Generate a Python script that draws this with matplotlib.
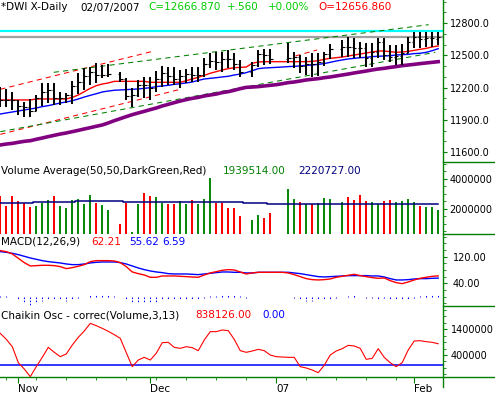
import numpy as np
import pandas as pd
import matplotlib
matplotlib.use("Agg")
import matplotlib.pyplot as plt
from matplotlib.lines import Line2D
from matplotlib.ticker import FixedLocator

W, H = 495, 395
AX_RIGHT = 443.3
plt.rcParams['font.family'] = ['DejaVu Sans']
FS = 7.5
TICK_FS = 7

# 取引日（祝日は空きスロット）
days = pd.bdate_range("2006-10-27", "2007-02-07")
x = np.arange(len(days))
N = None

opens = [12163, 12090, 12086, 12081, 12031, 12019, 11986, 12105, 12157, 12177,
         12103, 12108, 12132, 12218, 12252, 12306, 12343, 12317, 12322, N,
         12327, 12280, 12122, 12136, 12227, 12222, 12194, 12284, 12332, 12309,
         12278, 12307, 12328, 12316, 12318, 12417, 12446, 12441, 12471, 12464,
         12421, N, 12343, 12408, 12511, 12502, N, N, 12463, 12475,
         12481, 12398, 12423, 12417, 12442, 12515, N, 12556, 12583, 12577,
         12568, 12566, 12477, 12534, 12622, 12503, 12487, 12491, 12523, 12622,
         12674, 12653, 12662, 12657]
highs = [12210, 12185, 12163, 12086, 12070, 12092, 12129, 12247, 12241, 12241,
         12163, 12148, 12262, 12340, 12380, 12396, 12427, 12411, 12420, N,
         12349, 12287, 12194, 12272, 12303, 12296, 12358, 12402, 12389, 12389,
         12365, 12371, 12396, 12396, 12473, 12526, 12535, 12535, 12551, 12520,
         12458, N, 12442, 12551, 12560, 12557, N, N, 12619, 12535,
         12504, 12489, 12520, 12520, 12535, 12606, N, 12644, 12675, 12659,
         12628, 12613, 12613, 12659, 12659, 12597, 12597, 12606, 12675, 12721,
         12721, 12721, 12721, 12721]
lows = [12024, 12017, 11993, 11946, 11930, 11924, 11980, 12030, 12055, 12039,
        12039, 12055, 12045, 12141, 12179, 12225, 12241, 12287, 12303, N,
        12256, 12086, 12024, 12117, 12101, 12086, 12163, 12210, 12225, 12225,
        12194, 12241, 12256, 12256, 12300, 12380, 12365, 12349, 12380, 12365,
        12303, N, 12303, 12395, 12411, 12420, N, N, 12427, 12380,
        12334, 12318, 12303, 12309, 12402, 12464, N, 12489, 12489, 12473,
        12473, 12396, 12396, 12473, 12458, 12442, 12411, 12411, 12520, 12566,
        12566, 12582, 12582, 12597]
closes = [12090, 12086, 12081, 12031, 12019, 11986, 12105, 12157, 12177, 12103,
          12108, 12132, 12218, 12252, 12306, 12343, 12317, 12322, 12327, N,
          12280, 12122, 12136, 12227, 12222, 12194, 12284, 12332, 12309, 12278,
          12307, 12328, 12316, 12318, 12417, 12446, 12441, 12471, 12464, 12421,
          12343, N, 12408, 12511, 12502, 12463, N, N, 12475, 12481,
          12398, 12423, 12417, 12442, 12515, 12556, N, 12583, 12577, 12568,
          12566, 12477, 12534, 12622, 12503, 12487, 12491, 12523, 12622, 12674,
          12653, 12662, 12666, 12667]

ma_red = [12086, 12086, 12086, 12086, 12086, 12086, 12095, 12095, 12095, 12095,
          12095, 12095, 12110, 12132, 12163, 12194, 12219, 12234, 12244, 12259,
          12259, 12259, 12259, 12259, 12259, 12250, 12250, 12250, 12250, 12250,
          12250, 12265, 12281, 12296, 12315, 12334, 12349, 12365, 12377, 12386,
          12389, 12392, 12427, 12439, 12442, 12442, 12442, 12442, 12442, 12442,
          12442, 12442, 12445, 12451, 12464, 12473, 12479, 12485, 12495, 12504,
          12513, 12523, 12532, 12541, 12541, 12535, 12529, 12532, 12538, 12547,
          12557, 12566, 12579, 12588]
ma_blue = [11955, 11965, 11974, 11983, 11993, 12002, 12011, 12024, 12033, 12045,
           12058, 12067, 12079, 12095, 12113, 12129, 12144, 12160, 12169, 12176,
           12179, 12182, 12185, 12188, 12194, 12200, 12210, 12216, 12222, 12231,
           12237, 12244, 12253, 12268, 12281, 12287, 12293, 12300, 12306, 12318,
           12327, 12340, 12358, 12377, 12383, 12386, 12389, 12392, 12396, 12399,
           12402, 12408, 12411, 12417, 12424, 12436, 12448, 12458, 12467, 12473,
           12479, 12482, 12489, 12492, 12495, 12498, 12504, 12507, 12510, 12517,
           12520, 12529, 12544, 12563]
ma_purple = [11667, 11676, 11682, 11692, 11701, 11707, 11720, 11732, 11745, 11757,
             11769, 11779, 11791, 11803, 11816, 11828, 11841, 11853, 11872, 11893,
             11912, 11931, 11949, 11965, 11980, 11996, 12011, 12030, 12045, 12061,
             12076, 12089, 12101, 12110, 12123, 12132, 12141, 12154, 12163, 12176,
             12191, 12203, 12206, 12210, 12216, 12222, 12228, 12237, 12247, 12253,
             12262, 12272, 12278, 12284, 12293, 12300, 12309, 12318, 12327, 12337,
             12346, 12355, 12365, 12374, 12380, 12389, 12396, 12405, 12411, 12417,
             12424, 12430, 12436, 12442]

# トレンドチャネル（スロット, 価格）
red_upper = ([0, 25.6], [12185, 12541])
red_lower = ([0, 30.0], [11766, 12185])
red_upper2 = ([49.2, 52.8], [12495, 12551])
green_upper = ([8.9, 71.4], [12343, 12786])
green_lower = ([0, 72.5], [11791, 12529])
resist_level = 12730
last_close = 12666.87

volume = [2.89, 2.22, 2.89, 2.53, 2.38, 2.16, 2.22, 2.38, 2.60, 2.89,
          2.22, 2.09, 2.60, 2.67, 2.33, 2.95, 2.42, 2.27, 1.93, N,
          0.98, 2.42, 0.45, 2.31, 3.07, 2.89, 2.82, 2.42, 2.33, 2.33,
          2.53, 2.31, 2.60, 2.31, 2.67, 4.09, 2.42, 2.42, 2.09, 2.09,
          1.55, N, 1.27, 1.60, 1.42, 1.75, N, N, 3.33, 2.67,
          2.47, 2.31, 2.31, 2.42, 2.71, 2.67, N, 2.47, 2.80, 2.60,
          2.95, 2.55, 2.47, 2.31, 2.55, 2.60, 2.47, 2.55, 2.67, 2.47,
          2.20, 2.13, 2.13, 1.94]
vol_dir = [-1, -1, -1, -1, -1, -1, 1, 1, 1, -1, 1, 1, 1, 1, 1, 1, -1, 1, 1, 0,
           -1, -1, 1, 1, -1, -1, 1, 1, -1, -1, 1, 1, -1, 1, 1, 1, -1, -1, -1, -1,
           -1, 0, 1, 1, -1, -1, 0, 0, 1, 1, -1, 1, -1, 1, 1, 1, 0, 1, -1, -1,
           -1, -1, 1, 1, -1, -1, 1, 1, 1, 1, -1, 1, 1, 1]
vol_avg = [2.40] * 6 + [2.44] * 7 + [2.51] * 8 + [2.44] * 20 + [2.40] * 4 + [2.33] * 29

macd = [138, 135, 128, 115, 102, 92, 93, 94, 94, 93,
        90, 84, 87, 91, 96, 105, 108, 108, 108, 107,
        102, 90, 74, 69, 65, 58, 58, 62, 62, 62,
        61, 60, 59, 58, 65, 71, 75, 79, 81, 80,
        74, 68, 71, 73, 73, 73, 73, 73, 71, 66,
        60, 54, 51, 50, 51, 53, 58, 61, 64, 67,
        63, 60, 57, 55, 56, 48, 42, 39, 44, 50,
        55, 58, 61, 62.21]
signal = [135, 133, 130, 126, 121, 116, 112, 108, 105, 103,
          101, 98, 96, 96, 98, 101, 103, 104, 104, 104,
          102, 98, 92, 86, 81, 77, 74, 72, 69, 68,
          68, 68, 67, 66, 68, 70, 72, 74, 74, 73,
          73, 71, 71, 73, 73, 73, 73, 73, 73, 71,
          69, 66, 63, 60, 59, 60, 61, 62, 63, 63,
          63, 63, 62, 62, 59, 54, 50, 50, 51, 53,
          54, 54, 55, 55.62]

chaikin = [1243, 1010, 725, 102, -144, -442, -53, 310, 699, 505,
           336, 440, 790, 1088, 1335, 1633, 1542, 1438, 1322, 1192,
           1049, 492, -53, 206, 310, 206, 466, 881, 894, 699,
           660, 725, 686, 569, 984, 1309, 1309, 1374, 1348, 1010,
           569, 505, 556, 621, 569, 401, 336, 323, 310, 310,
           -53, -105, -183, -287, -1, 401, 556, 647, 777, 751,
           660, 232, 271, 647, 310, 102, -53, 102, 595, 945,
           958, 919, 894, 838]

opens, highs, lows, closes, volume = [np.array(a, dtype=float) for a in (opens, highs, lows, closes, volume)]
macd, signal = np.array(macd, float), np.array(signal, float)
chaikin = np.array(chaikin, float) * 1000

GREEN = '#008000'


def fy(py):
    return 1 - py / H


fig = plt.figure(figsize=(W / 100, H / 100), dpi=100)


def panel(top, bottom):
    ax = fig.add_axes([0, fy(bottom), AX_RIGHT / W, (bottom - top) / H])
    ax.set_xlim(-0.05, len(x) - 0.15)
    for s in ax.spines.values():
        s.set_visible(False)
    ax.yaxis.tick_right()
    ax.tick_params(axis='y', which='both', colors=GREEN, labelcolor='black',
                   labelsize=TICK_FS, direction='out')
    ax.tick_params(axis='y', which='major', length=3, pad=1.5)
    ax.tick_params(axis='y', which='minor', length=2)
    ax.tick_params(axis='x', which='both', bottom=False, labelbottom=False)
    ax.set_facecolor('none')
    return ax


# 価格パネル
ax = panel(0, 162.3)
ax.set_ylim(11506, 13015.6)
ax.axhline(resist_level, color='#00ffff', lw=1.6, zorder=1)
ax.axhline(last_close, color='#a0a0a0', lw=1.6, zorder=1)
for seg, col in [(red_upper, 'red'), (red_lower, 'red'), (red_upper2, 'red'),
                 (green_upper, GREEN), (green_lower, GREEN)]:
    ax.plot(seg[0], seg[1], color=col, lw=0.75, ls=(0, (5, 4)), zorder=2)
ax.plot(x, ma_purple, color='#800080', lw=2.6, zorder=3)
ax.plot(x, ma_blue, color='blue', lw=1.0, zorder=3)
ax.plot(x, ma_red, color='red', lw=1.0, zorder=3)
ax.vlines(x, lows, highs, color='black', lw=1.4, zorder=4)
ax.hlines(opens, x - 0.38, x, color='black', lw=0.8, zorder=4)
ax.hlines(closes, x, x + 0.38, color='black', lw=0.8, zorder=4)
ax.yaxis.set_major_locator(FixedLocator([11600, 11900, 12200, 12500, 12800]))
ax.yaxis.set_minor_locator(FixedLocator(np.arange(11600, 13001, 100)))
ax.yaxis.set_major_formatter(lambda v, p: f"{v:.1f}")

# 出来高パネル
av = panel(162.3, 234.3)
av.set_ylim(0.313, 5.11)
ok = ~np.isnan(volume)
cols = ['red' if d < 0 else '#0a8a0a' for d in vol_dir]
av.bar(x[ok], volume[ok], width=0.32, color=np.array(cols)[ok], zorder=2)
av.plot(x, vol_avg, color='#000080', lw=1.1, drawstyle='steps-mid', zorder=3)
av.yaxis.set_major_locator(FixedLocator([2, 4]))
av.yaxis.set_minor_locator(FixedLocator(np.arange(0.5, 5.1, 0.5)))
av.yaxis.set_major_formatter(lambda v, p: f"{v * 1e6:.0f}")

# MACDパネル
am = panel(234.3, 305.7)
am.set_ylim(-27.2, 187)
am.plot(x, signal, color='blue', lw=1.0)
am.plot(x, macd, color='red', lw=1.0)
am.vlines(x, 0, macd - signal, color='blue', lw=0.75, ls=(0, (1.5, 1.5)))
am.yaxis.set_major_locator(FixedLocator([40, 120]))
am.yaxis.set_minor_locator(FixedLocator(np.arange(-20, 181, 20)))
am.yaxis.set_major_formatter(lambda v, p: f"{v:.2f}")
am.tick_params(axis='y', which='major', pad=4)

# チャイキン・オシレーター
ac = panel(305.7, 377.3)
ac.set_ylim(-0.467e6, 2.319e6)
ac.axhline(0, color='blue', lw=1.1)
ac.plot(x, chaikin, color='red', lw=0.8)
ac.yaxis.set_major_locator(FixedLocator([0.4e6, 1.4e6]))
ac.yaxis.set_minor_locator(FixedLocator(np.arange(-0.35e6, 2.3e6, 0.25e6)))
ac.yaxis.set_major_formatter(lambda v, p: f"{v:.0f}")
ac.tick_params(axis='y', which='major', pad=2.5)

# 日付軸
month_start = [i for i in range(1, len(days)) if days[i].month != days[i - 1].month]
month_lbl = [days[i].strftime('%y') if days[i].month == 1 else days[i].strftime('%b')
             for i in month_start]
mondays = [i for i in range(len(days)) if days[i].weekday() == 0 and i not in month_start
           and i < len(days) - 3]
ac.set_xticks(month_start)
ac.set_xticklabels(month_lbl, ha='left')
ac.set_xticks(mondays, minor=True)
ac.tick_params(axis='x', which='both', bottom=True, labelbottom=True, colors=GREEN,
               labelcolor='black', labelsize=FS, direction='out')
ac.tick_params(axis='x', which='major', length=4.3, pad=0.5)
ac.tick_params(axis='x', which='minor', length=1.8)

# 枠線（図ピクセル座標）
for y0 in (162.3, 234.3, 305.7):
    fig.add_artist(Line2D([AX_RIGHT / W, 1], [fy(y0)] * 2, color=GREEN, lw=1))
fig.add_artist(Line2D([0, 1], [fy(377.3)] * 2, color=GREEN, lw=1))
fig.add_artist(Line2D([AX_RIGHT / W] * 2, [fy(386.5), 1], color=GREEN, lw=1))


def label(px, py, s, color='black'):
    fig.text(px / W, fy(py), s, color=color, fontsize=FS, ha='left', va='center')


label(1, 7.5, "*DWI X-Daily")
label(80, 7.5, "02/07/2007")
label(148, 7.5, "C=12666.870", '#00cc00')
label(227, 7.5, "+.560", '#00cc00')
label(268, 7.5, "+0.00%", '#00cc00')
label(318, 7.5, "O=12656.860", 'red')

label(1, 171, "Volume Average(50,50,DarkGreen,Red)")
label(223, 171, "1939514.00", GREEN)
label(298, 171, "2220727.00", '#000080')

label(1, 241.7, "MACD(12,26,9)")
label(91, 241.7, "62.21", 'red')
label(129, 241.7, "55.62", 'blue')
label(162, 241.7, "6.59", 'blue')

label(1, 315, "Chaikin Osc - correc(Volume,3,13)")
label(195, 315, "838126.00", 'red')
label(262, 315, "0.00", 'blue')

fig.savefig("out.png", dpi=100)
